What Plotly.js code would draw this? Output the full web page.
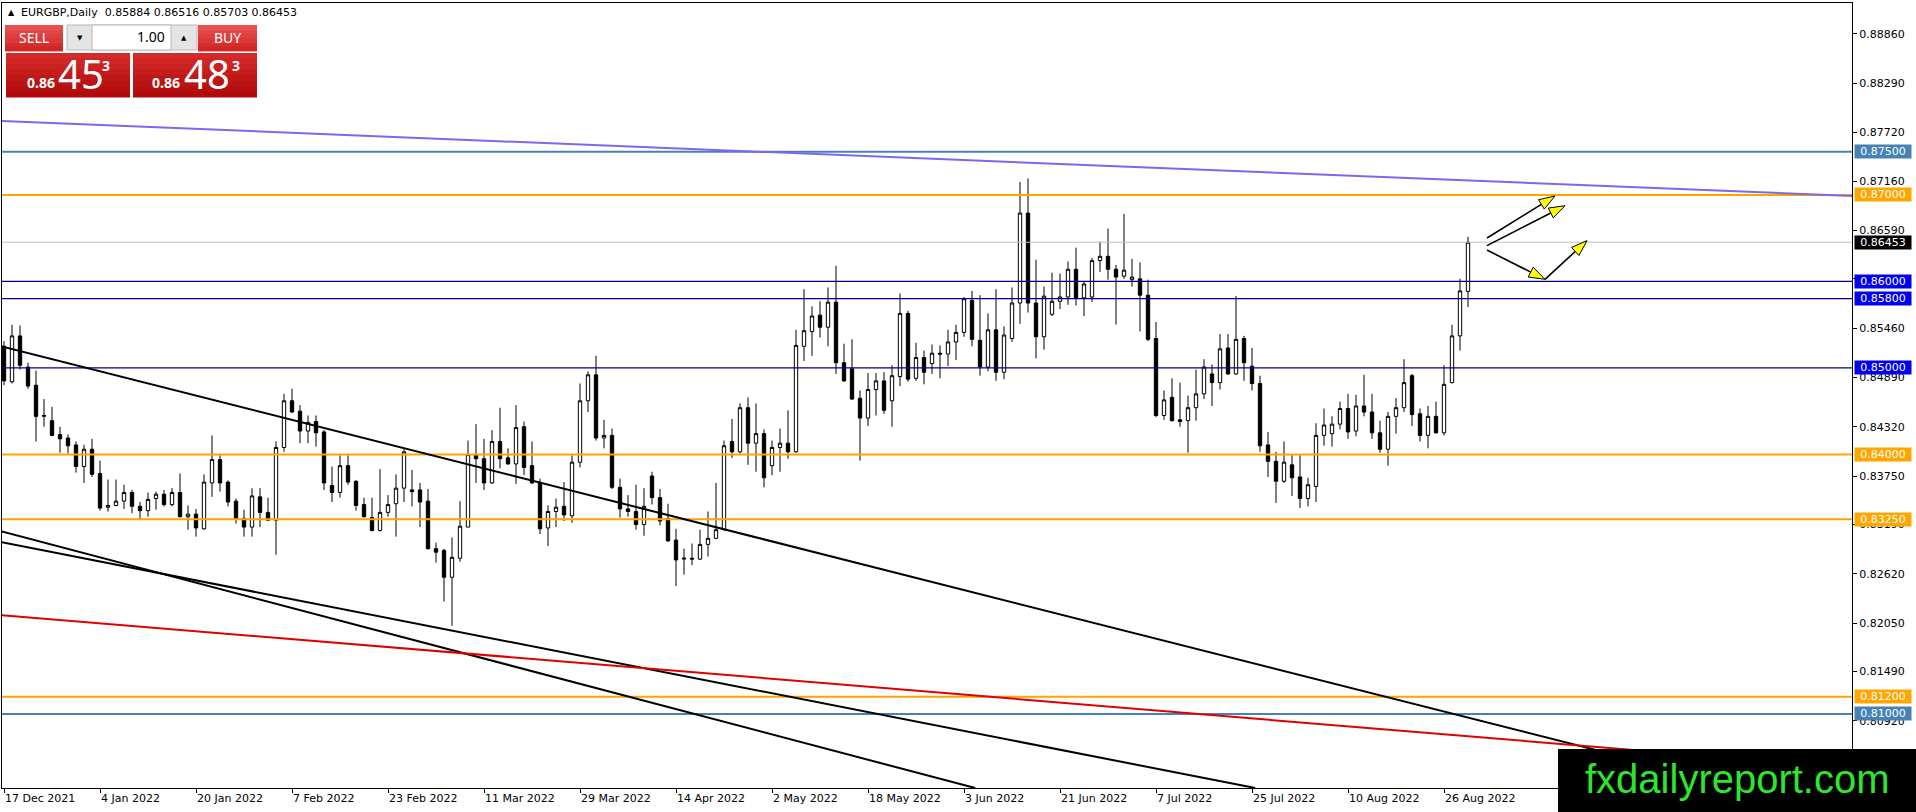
<!DOCTYPE html>
<html>
<head>
<meta charset="utf-8">
<script src="https://cdn.plot.ly/plotly-3.0.1.min.js"></script>
<style>html,body{margin:0;padding:0;background:#fff;}#chart{width:1916px;height:812px;}</style>
</head>
<body>
<div id="chart"></div>
<script>
// ---------------- DATA ----------------
const symbolTitle = "EURGBP,Daily";
const lastOHLC = ["0.85884", "0.86516", "0.85703", "0.86453"];

const open = [0.8525,0.8484,0.8537,0.8501,0.8480,0.8444,0.8439,0.8423,0.8419,0.8411,0.8386,0.8406,0.8378,0.8339,0.8341,0.8346,0.8356,0.8340,0.8335,0.8349,
0.8354,0.8342,0.8356,0.8328,0.8331,0.8314,0.8367,0.8394,0.8368,0.8346,0.8326,0.8316,0.8351,0.8333,0.8324,0.8408,0.8462,0.8450,0.8427,0.8438,
0.8426,0.8364,0.8356,0.8387,0.8369,0.8342,0.8327,0.8312,0.8333,0.8343,0.8361,0.8359,0.8359,0.8346,0.8291,0.8289,0.8258,0.8280,0.8316,0.8399,
0.8395,0.8367,0.8415,0.8396,0.8389,0.8432,0.8387,0.8367,0.8315,0.8334,0.8340,0.8329,0.8391,0.8462,0.8492,0.8419,0.8422,0.8362,0.8337,0.8334,
0.8319,0.8375,0.8350,0.8326,0.8301,0.8279,0.8280,0.8279,0.8296,0.8303,0.8313,0.8415,0.8403,0.8454,0.8413,0.8424,0.8387,0.8408,0.8413,0.8403,
0.8525,0.8542,0.8561,0.8547,0.8576,0.8506,0.8499,0.8465,0.8442,0.8475,0.8485,0.8462,0.8490,0.8563,0.8488,0.8512,0.8505,0.8517,0.8516,0.8530,
0.8541,0.8578,0.8532,0.8501,0.8544,0.8495,0.8534,0.8575,0.8679,0.8575,0.8536,0.8562,0.8577,0.8582,0.8614,0.8581,0.8582,0.8624,0.8629,0.8614,
0.8606,0.8602,0.8603,0.8584,0.8534,0.8445,0.8466,0.8440,0.8439,0.8454,0.8470,0.8493,0.8483,0.8523,0.8493,0.8534,0.8502,0.8482,0.8411,0.8392,
0.8369,0.8388,0.8374,0.8349,0.8363,0.8422,0.8424,0.8435,0.8453,0.8427,0.8456,0.8449,0.8425,0.8406,0.8444,0.8454,0.8491,0.8447,0.8422,0.8444,
0.8425,0.8483,0.8537,0.85884];
const high = [0.8531,0.8550,0.8549,0.8506,0.8497,0.8464,0.8455,0.8432,0.8423,0.8415,0.8411,0.8418,0.8393,0.8371,0.8371,0.8365,0.8359,0.8345,0.8356,0.8357,
0.8359,0.8361,0.8378,0.8341,0.8337,0.8377,0.8422,0.8399,0.8370,0.8349,0.8336,0.8361,0.8361,0.8350,0.8415,0.8470,0.8476,0.8457,0.8445,0.8445,
0.8428,0.8386,0.8399,0.8399,0.8370,0.8350,0.8350,0.8383,0.8353,0.8377,0.8406,0.8382,0.8367,0.8360,0.8298,0.8291,0.8304,0.8346,0.8416,0.8435,
0.8418,0.8428,0.8454,0.8407,0.8457,0.8438,0.8415,0.8372,0.8341,0.8349,0.8368,0.8399,0.8482,0.8496,0.8514,0.8440,0.8430,0.8372,0.8353,0.8365,
0.8361,0.8380,0.8360,0.8343,0.8314,0.8291,0.8297,0.8313,0.8334,0.8367,0.8416,0.8441,0.8459,0.8466,0.8459,0.8429,0.8416,0.8430,0.8451,0.8544,
0.8591,0.8571,0.8577,0.8593,0.8618,0.8528,0.8533,0.8474,0.8494,0.8494,0.8495,0.8503,0.8586,0.8566,0.8529,0.8520,0.8527,0.8526,0.8544,0.8550,
0.8582,0.8589,0.8584,0.8563,0.8591,0.8548,0.8593,0.8715,0.8719,0.8625,0.8594,0.8610,0.8609,0.8623,0.8639,0.8600,0.8627,0.8646,0.8661,0.8619,
0.8678,0.8626,0.8622,0.8602,0.8553,0.8474,0.8488,0.8483,0.8468,0.8498,0.8510,0.8504,0.8539,0.8539,0.8583,0.8537,0.8523,0.8491,0.8426,0.8403,
0.8415,0.8400,0.8400,0.8373,0.8436,0.8453,0.8444,0.8461,0.8470,0.8469,0.8492,0.8470,0.8439,0.8449,0.8465,0.8510,0.8493,0.8453,0.8456,0.8461,
0.8503,0.8550,0.8603,0.86516];
const low = [0.8480,0.8482,0.8498,0.8476,0.8415,0.8432,0.8421,0.8402,0.8401,0.8379,0.8367,0.8374,0.8335,0.8334,0.8340,0.8337,0.8332,0.8324,0.8328,0.8336,
0.8340,0.8340,0.8327,0.8313,0.8305,0.8313,0.8351,0.8357,0.8340,0.8320,0.8305,0.8305,0.8316,0.8323,0.8284,0.8403,0.8448,0.8413,0.8413,0.8409,
0.8359,0.8345,0.8350,0.8365,0.8335,0.8327,0.8311,0.8311,0.8328,0.8305,0.8345,0.8340,0.8316,0.8290,0.8275,0.8230,0.8202,0.8276,0.8316,0.8367,
0.8359,0.8366,0.8384,0.8388,0.8366,0.8376,0.8366,0.8308,0.8294,0.8316,0.8323,0.8321,0.8385,0.8449,0.8416,0.8407,0.8360,0.8327,0.8328,0.8313,
0.8306,0.8342,0.8318,0.8299,0.8248,0.8261,0.8272,0.8278,0.8282,0.8302,0.8312,0.8396,0.8401,0.8388,0.8380,0.8362,0.8376,0.8380,0.8395,0.8402,
0.8508,0.8514,0.8535,0.8525,0.8493,0.8484,0.8463,0.8393,0.8433,0.8445,0.8447,0.8432,0.8479,0.8484,0.8485,0.8481,0.8493,0.8488,0.8502,0.8509,
0.8536,0.8525,0.8491,0.8496,0.8485,0.8487,0.8530,0.8551,0.8564,0.8511,0.8521,0.8560,0.8568,0.8573,0.8572,0.8560,0.8576,0.8611,0.8602,0.8550,
0.8603,0.8594,0.8542,0.8531,0.8443,0.8440,0.8438,0.8432,0.8402,0.8439,0.8464,0.8456,0.8475,0.8492,0.8492,0.8485,0.8474,0.8403,0.8374,0.8344,
0.8367,0.8352,0.8338,0.8340,0.8345,0.8410,0.8409,0.8429,0.8418,0.8421,0.8444,0.8418,0.8402,0.8387,0.8424,0.8449,0.8433,0.8415,0.8407,0.8424,
0.8422,0.8482,0.8520,0.85703];
const close = [0.8485,0.8537,0.8503,0.8479,0.8444,0.8445,0.8422,0.8418,0.8410,0.8386,0.8406,0.8377,0.8338,0.8341,0.8346,0.8356,0.8340,0.8335,0.8348,0.8354,
0.8342,0.8356,0.8328,0.8331,0.8315,0.8368,0.8394,0.8367,0.8345,0.8326,0.8316,0.8352,0.8333,0.8324,0.8408,0.8462,0.8449,0.8427,0.8437,0.8425,
0.8367,0.8356,0.8387,0.8368,0.8341,0.8328,0.8312,0.8333,0.8342,0.8361,0.8403,0.8357,0.8345,0.8291,0.8287,0.8258,0.8281,0.8317,0.8400,0.8395,
0.8367,0.8415,0.8395,0.8389,0.8431,0.8385,0.8367,0.8314,0.8334,0.8339,0.8330,0.8391,0.8462,0.8492,0.8419,0.8422,0.8362,0.8337,0.8334,0.8319,
0.8340,0.8350,0.8323,0.8300,0.8278,0.8280,0.8279,0.8296,0.8303,0.8313,0.8410,0.8403,0.8454,0.8413,0.8424,0.8373,0.8408,0.8413,0.8403,0.8526,
0.8543,0.8560,0.8547,0.8576,0.8506,0.8485,0.8464,0.8442,0.8475,0.8485,0.8451,0.8491,0.8563,0.8487,0.8512,0.8495,0.8517,0.8516,0.8530,0.8541,
0.8580,0.8533,0.8501,0.8544,0.8495,0.8538,0.8575,0.8679,0.8575,0.8536,0.8583,0.8577,0.8582,0.8614,0.8581,0.8597,0.8624,0.8629,0.8614,0.8605,
0.8613,0.8605,0.8584,0.8533,0.8445,0.8463,0.8439,0.8438,0.8454,0.8470,0.8501,0.8483,0.8522,0.8493,0.8533,0.8506,0.8482,0.8410,0.8392,0.8369,
0.8391,0.8373,0.8349,0.8365,0.8422,0.8434,0.8435,0.8453,0.8426,0.8456,0.8449,0.8425,0.8406,0.8444,0.8454,0.8483,0.8446,0.8422,0.8444,0.8425,
0.8481,0.8537,0.8589,0.86453];

// date labels every 12 bars (bar index of first label = 0)
const dateTickBars = [0,12,24,36,48,60,72,84,96,108,120,132,144,156,168,180];
const dateTickLabels = ["17 Dec 2021","4 Jan 2022","20 Jan 2022","7 Feb 2022","23 Feb 2022","11 Mar 2022","29 Mar 2022","14 Apr 2022",
  "2 May 2022","18 May 2022","3 Jun 2022","21 Jun 2022","7 Jul 2022","25 Jul 2022","10 Aug 2022","26 Aug 2022"];

const priceTicks = [0.8886,0.8829,0.8772,0.8716,0.8659,0.8603,0.8546,0.8489,0.8432,0.8375,0.8319,0.8262,0.8205,0.8149,0.8092];
const priceTickLabels = ["0.88860","0.88290","0.87720","0.87160","0.86590","0.86030","0.85460","0.84890","0.84320","0.83750","0.83190","0.82620","0.82050","0.81490","0.80920"];

// horizontal levels
const levelPrices = [0.875, 0.870, 0.860, 0.858, 0.850, 0.840, 0.8325, 0.812, 0.810];
const levelLabels = ["0.87500","0.87000","0.86000","0.85800","0.85000","0.84000","0.83250","0.81200","0.81000"];
const levelKind   = ["steel","orange","blue","blue","blue","orange","orange","orange","steel"];
const bidPrice = 0.86453;
const bidLabel = "0.86453";

// trend lines (bar index, price)
const trendX0 = [-0.5, -0.5, -0.5, -0.5, -0.5];
const trendY0 = [0.87854, 0.85254, 0.83115, 0.82988, 0.82144];
const trendX1 = [231, 217.75, 121.4, 156.4, 231];
const trendY1 = [0.86987, 0.80144, 0.80144, 0.80144, 0.80375];
const trendKind = ["purple","black","black","black","red"];

// hand drawn arrows (bar index, price)
const arrowX0 = [185.375, 185.375, 185.375, 192.625];
const arrowY0 = [0.86502, 0.86413, 0.86362, 0.86024];
const arrowX1 = [193.875, 195.125, 192.625, 197.875];
const arrowY1 = [0.86987, 0.86875, 0.86024, 0.86471];

// one-click trading panel
const lotSize = "1.00";
const sellBig = "45", buyBig = "48", pricePrefix = "0.86", pipette = "3";
const watermark = "fxdailyreport.com";

// ---------------- LAYOUT GEOMETRY ----------------
const W = 1916, H = 812;
const M = {l:2, r:64, t:3, b:24};
const PW = W - M.l - M.r, PH = H - M.t - M.b;
const xr = [-0.25, 231];
const yr = [0.80144, 0.89218];
const FONT = "DejaVu Sans, Verdana, sans-serif";

const pX = px => (px - M.l) / PW;            // pixel -> paper
const pY = py => 1 - (py - M.t) / PH;
const d2px = (x, y) => [M.l + (x - xr[0]) / (xr[1] - xr[0]) * PW, M.t + (yr[1] - y) / (yr[1] - yr[0]) * PH];
const px2d = (X, Y) => [xr[0] + (X - M.l) / PW * (xr[1] - xr[0]), yr[1] - (Y - M.t) / PH * (yr[1] - yr[0])];

const COL = {steel:"#4682B4", orange:"#FFA500", blue:"#00008C", blueLbl:"#0000EE", purple:"#7B68EE", black:"#000000", red:"#E00000"};
const WID = {steel:2, orange:2, blue:1.3, purple:2, black:2, red:2};

const shapes = [];
const annotations = [];

// level lines
levelPrices.forEach((p, i) => {
  const k = levelKind[i];
  shapes.push({type:"line", xref:"paper", yref:"y", x0:0, x1:1, y0:p, y1:p, layer:"above",
    line:{color:COL[k], width:WID[k]}});
});
// bid line
shapes.push({type:"line", xref:"paper", yref:"y", x0:0, x1:1, y0:bidPrice, y1:bidPrice, layer:"above",
  line:{color:"#C0C0C0", width:1}});

// trend lines
trendX0.forEach((x0, i) => {
  const k = trendKind[i];
  shapes.push({type:"line", xref:"x", yref:"y", x0:x0, y0:trendY0[i], x1:trendX1[i], y1:trendY1[i], layer:"above",
    line:{color:COL[k], width:WID[k]}});
});

// arrows
arrowX0.forEach((x0, i) => {
  const a = d2px(x0, arrowY0[i]);
  const b = d2px(arrowX1[i], arrowY1[i]);
  const dx = b[0] - a[0], dy = b[1] - a[1];
  const len = Math.hypot(dx, dy), ux = dx / len, uy = dy / len;
  const hl = 16, hw = 5.5;
  const bc = [b[0] - ux * hl, b[1] - uy * hl];
  const l = [bc[0] - uy * hw, bc[1] + ux * hw];
  const r = [bc[0] + uy * hw, bc[1] - ux * hw];
  const A = px2d(a[0], a[1]), BC = px2d(bc[0], bc[1]);
  shapes.push({type:"line", xref:"x", yref:"y", x0:A[0], y0:A[1], x1:BC[0], y1:BC[1], layer:"above",
    line:{color:"#000", width:1.6}});
  const T = px2d(b[0], b[1]), Lp = px2d(l[0], l[1]), Rp = px2d(r[0], r[1]);
  shapes.push({type:"path", xref:"x", yref:"y", layer:"above",
    path:`M ${T[0]},${T[1]} L ${Lp[0]},${Lp[1]} L ${Rp[0]},${Rp[1]} Z`,
    fillcolor:"#FFFF00", line:{color:"#000", width:1}});
});

// price labels on the axis
function axisLabel(p, text, bg) {
  annotations.push({xref:"paper", yref:"y", x:1, xanchor:"left", xshift:2, y:p, yanchor:"middle",
    text:text, showarrow:false, bgcolor:bg, width:56, height:13, borderpad:0, align:"center",
    font:{family:FONT, size:11, color:"#FFFFFF"}});
}
levelPrices.forEach((p, i) => {
  const k = levelKind[i];
  axisLabel(p, levelLabels[i], k === "blue" ? COL.blueLbl : COL[k]);
});
axisLabel(bidPrice, bidLabel, "#000000");

// ---------------- trading panel ----------------
function rect(x0, y0, x1, y1, fill, lineColor, lw) {
  shapes.push({type:"rect", xref:"paper", yref:"paper", x0:pX(x0), x1:pX(x1), y0:pY(y1), y1:pY(y0),
    fillcolor:fill, layer:"above", line:{color:lineColor || fill, width: lineColor ? (lw || 1) : 0}});
}
function hex2rgb(h){return [parseInt(h.substr(1,2),16),parseInt(h.substr(3,2),16),parseInt(h.substr(5,2),16)];}
function grad(x0, y0, x1, y1, c0, c1, n) {
  const a = hex2rgb(c0), b = hex2rgb(c1);
  const h = (y1 - y0) / n;
  for (let i = 0; i < n; i++) {
    const t = i / (n - 1);
    const c = `rgb(${Math.round(a[0]+(b[0]-a[0])*t)},${Math.round(a[1]+(b[1]-a[1])*t)},${Math.round(a[2]+(b[2]-a[2])*t)})`;
    rect(x0, y0 + i * h, x1, y0 + (i + 1) * h + 0.5, c);
  }
}
function txt(text, x, y, size, color, family, anchor) {
  annotations.push({xref:"paper", yref:"paper", x:pX(x), y:pY(y), xanchor:anchor || "left", yanchor:"middle",
    text:text, showarrow:false, borderpad:0, font:{family:family, size:size, color:color}});
}
const PF = "Noto Sans, Open Sans, sans-serif";

// SELL / BUY buttons
grad(5, 25, 63, 51, "#E85050", "#D02626", 6);
grad(198, 25, 257, 51, "#E85050", "#D02626", 6);
rect(10, 51, 62, 52, "#F4A0A0");
rect(200, 51, 255, 52, "#F4A0A0");
// lot box
rect(67, 25, 197, 50, "#E4E4E4", "#B8B8B8");
rect(92, 25, 171, 50, "#FFFFFF", "#B8B8B8");
// price boxes
grad(6, 53, 130, 97, "#D42A2A", "#B00A0A", 8);
grad(133, 53, 257, 97, "#D42A2A", "#B00A0A", 8);

txt("SELL", 34, 38, 14, "#FFFFFF", PF, "center");
txt("BUY", 227, 38, 14, "#FFFFFF", PF, "center");
txt(lotSize, 166, 37, 14, "#000000", PF, "right");
txt("▼", 80, 38, 7, "#000000", FONT, "center");
txt("▲", 184, 38, 7, "#000000", FONT, "center");
txt("<b>" + pricePrefix + "</b>", 26, 83, 14, "#FFFFFF", PF, "left");
txt(sellBig, 57, 74, 40, "#FFFFFF", PF, "left");
txt("<b>" + pipette + "</b>", 101, 66, 14, "#FFFFFF", PF, "left");
txt("<b>" + pricePrefix + "</b>", 151, 83, 14, "#FFFFFF", PF, "left");
txt(buyBig, 183, 74, 40, "#FFFFFF", PF, "left");
txt("<b>" + pipette + "</b>", 231, 66, 14, "#FFFFFF", PF, "left");

// chart title
txt("▲", 11, 13, 8, "#000000", FONT, "center");
txt(symbolTitle + "&nbsp;&nbsp;" + lastOHLC.join(" "), 20, 13, 11, "#000000", FONT, "left");

// watermark box
rect(1558, 749, 1916, 812, "#000000");
txt(watermark, 1737, 779, 40, "#2EE62E", "Liberation Sans, Arial, sans-serif", "center");

// ---------------- TRACE ----------------
const bars = open.map((_, i) => i);
const trace = {
  type:"candlestick", x:bars, open:open, high:high, low:low, close:close,
  increasing:{line:{color:"#000000", width:1}, fillcolor:"#FFFFFF"},
  decreasing:{line:{color:"#000000", width:1}, fillcolor:"#000000"},
  whiskerwidth:0, hoverinfo:"skip", showlegend:false
};

const layout = {
  width:W, height:H, margin:M, paper_bgcolor:"#FFFFFF", plot_bgcolor:"#FFFFFF",
  showlegend:false, hovermode:false, dragmode:false, boxgap:0.4,
  xaxis:{range:xr, autorange:false, rangeslider:{visible:false}, showgrid:false, zeroline:false,
    showline:true, linecolor:"#000", linewidth:1, mirror:true,
    tickmode:"array", tickvals:dateTickBars, ticktext:dateTickLabels, ticks:"outside", ticklen:4,
    tickcolor:"#000", ticklabelposition:"outside right", automargin:false,
    tickfont:{family:FONT, size:11, color:"#000"}, fixedrange:true},
  yaxis:{range:yr, autorange:false, side:"right", showgrid:false, zeroline:false,
    showline:true, linecolor:"#000", linewidth:1, mirror:true,
    tickmode:"array", tickvals:priceTicks, ticktext:priceTickLabels, ticks:"outside", ticklen:4,
    tickcolor:"#000", automargin:false, tickfont:{family:FONT, size:11, color:"#000"}, fixedrange:true},
  shapes:shapes, annotations:annotations
};

Plotly.newPlot("chart", [trace], layout, {displayModeBar:false, staticPlot:true});
</script>
</body>
</html>
